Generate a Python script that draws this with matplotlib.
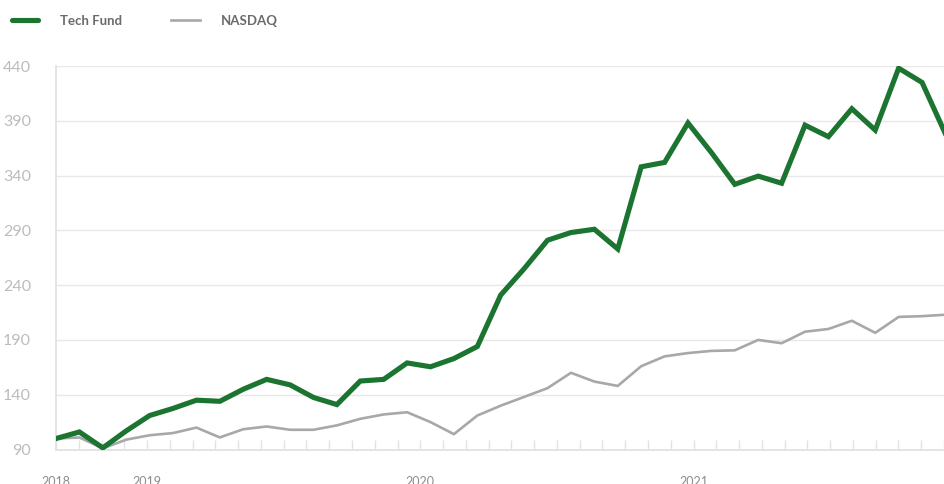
import numpy as np
import matplotlib.pyplot as plt
from matplotlib.lines import Line2D

plt.rcParams['font.family'] = ['Lato', 'DejaVu Sans']

# monthly values, indexed from the first observation
tech_fund = [100, 106, 91.5, 107, 121, 127.5, 135, 134, 145, 154,
             149, 137.5, 131, 152.5, 154, 169, 165.5, 173, 184, 231,
             255, 281, 288, 291, 273, 348, 352, 388, 361, 332,
             339.5, 333, 386, 375.5, 401, 381.5, 438, 425, 378]
nasdaq = [100, 101, 91, 99, 103, 105, 110, 101, 108.5, 111,
          108, 108, 112, 118, 122, 124, 115, 104, 121, 130,
          138, 146, 160, 152, 148, 166, 175, 178, 180, 180.5,
          190, 187, 197.5, 200, 207.5, 196.5, 211, 211.7, 213]
year_labels = {0: '2018', 4: '2019', 16: '2020', 28: '2021'}

green = '#1b7430'
grey = '#a8a8aa'

fig = plt.figure(figsize=(9.44, 4.84), dpi=100)
ax = fig.add_axes([56/944, 1 - 449.5/484, 888/944, (449.5 - 66)/484])

x = np.arange(len(tech_fund))
ax.plot(x, nasdaq, color=grey, lw=1.9, zorder=2)
ax.plot(x, tech_fund, color=green, lw=3.7, zorder=3, solid_joinstyle='miter')

ax.set_xlim(0, 888/23.49)
ax.set_ylim(90, 440)
ax.set_yticks(np.arange(90, 441, 50))
ax.grid(axis='y', color='#e8e8e8', lw=1)
ax.set_axisbelow(True)

for s in ['top', 'right']:
    ax.spines[s].set_visible(False)
for s in ['left', 'bottom']:
    ax.spines[s].set_color('#e2e2e2')
    ax.spines[s].set_linewidth(1.3)

# month ticks are slightly narrower than the point spacing
step = 22.85/23.49
ticks = np.arange(40) * step
ax.set_xticks(ticks)
ax.set_xticklabels([year_labels.get(i, '') for i in range(40)])

ax.tick_params(axis='y', length=0, pad=18, labelsize=11.5, labelcolor='#bcbcbc')
ax.tick_params(axis='x', direction='in', length=7.5, width=1, color='#e2e2e2',
               pad=19, labelsize=9, labelcolor='#8c8c8c')

# legend across the top
fig.add_artist(Line2D([12/944, 38/944], [1 - 20/484]*2, transform=fig.transFigure,
                      color=green, lw=3.7, solid_capstyle='round'))
fig.text(60/944, 1 - 21/484, 'Tech Fund', fontsize=9.5, fontweight='bold',
         color='#6b6b6b', va='center')
fig.add_artist(Line2D([171/944, 200/944], [1 - 20/484]*2, transform=fig.transFigure,
                      color=grey, lw=1.9))
fig.text(221/944, 1 - 21/484, 'NASDAQ', fontsize=9.5, fontweight='bold',
         color='#6b6b6b', va='center')

fig.savefig('out.png', dpi=100)
